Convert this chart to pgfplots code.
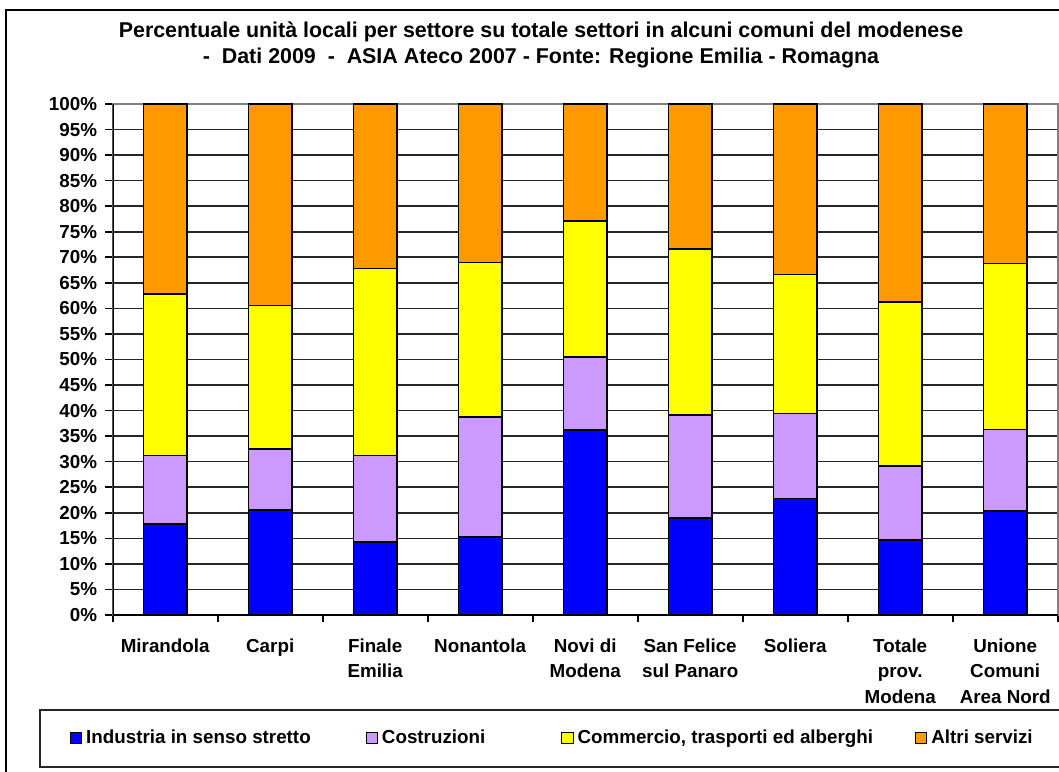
\documentclass[border=0pt]{standalone}
\usepackage{pgfplots}
\pgfplotsset{compat=1.18}
\usepackage{fontspec}
\setmainfont{Liberation Sans}
\definecolor{cInd}{HTML}{0000FF}
\definecolor{cCos}{HTML}{CC99FF}
\definecolor{cCom}{HTML}{FFFF00}
\definecolor{cAlt}{HTML}{FF9900}
\definecolor{frame}{HTML}{808080}
\begin{document}
\begin{tikzpicture}
\useasboundingbox (0,0) rectangle (529.5pt,385.5pt);
\clip (0,0) rectangle (529.5pt,385.5pt);
\begin{scope}[x=0.5pt,y=0.5pt]
% chart area frame and legend box
\draw[black, line width=0.8pt] (6,-20) rectangle (1090,761);
\draw[black!85, line width=0.8pt] (40,4) rectangle (1090,61);
% title
\node[align=center, font=\bfseries\fontsize{10.7}{13}\selectfont] at (541,726)
  {Percentuale unità locali per settore su totale settori in alcuni comuni del modenese\\
   -\ \ Dati 2009\ \ -\ \ ASIA Ateco 2007 - Fonte: Regione Emilia - Romagna};
\end{scope}
\begin{axis}[
  at={(56.35pt,78pt)}, anchor=south west,
  scale only axis, width=472.5pt, height=255.5pt,
  ybar stacked, bar width=0.41,
  xmin=-0.5, xmax=8.5, ymin=0, ymax=100,
  xtick={0,...,8},
  xticklabels={Mirandola, Carpi, {Finale\\Emilia}, Nonantola, {Novi di\\Modena},
    {San Felice\\sul Panaro}, Soliera, {Totale\\prov.\\Modena}, {Unione\\Comuni\\Area Nord}},
  minor xtick={-0.5,0.5,...,8.5},
  ytick={0,5,...,100},
  yticklabel={\pgfmathprintnumber{\tick}\%},
  /pgf/number format/assume math mode=true,
  tick label style={font=\bfseries\fontsize{9.4}{12.75}\selectfont},
  xticklabel style={align=center, yshift=-4.5pt},
  yticklabel style={xshift=-0.5pt},
  tick align=outside, tick pos=left,
  major tick length=3.8pt, minor tick length=3.3pt,
  major x tick style={draw=none},
  tick style={black, line width=0.8pt},
  ymajorgrids, grid style={black!85, line width=0.8pt},
  axis line style={frame, line width=0.8pt},
  legend columns=4,
  legend style={draw=none, fill=none, at={(-0.052,-0.2407)}, anchor=west,
    font=\bfseries\fontsize{9.4}{10}\selectfont,
    /tikz/column 2/.style={column sep=25.5pt},
    /tikz/column 4/.style={column sep=36pt},
    /tikz/column 6/.style={column sep=19pt}},
  legend image code/.code={\draw[#1, draw=black, line width=0.5pt] (0pt,-2.6pt) rectangle (5.6pt,3pt);},
]
\addplot[fill=cInd, draw=black, line width=0.8pt] coordinates
  {(0,17.8) (1,20.5) (2,14.3) (3,15.3) (4,36.2) (5,19.0) (6,22.8) (7,14.7) (8,20.4)};
\addplot[fill=cCos, draw=black, line width=0.8pt] coordinates
  {(0,13.4) (1,12.0) (2,16.9) (3,23.4) (4,14.3) (5,20.1) (6,16.6) (7,14.4) (8,15.9)};
\addplot[fill=cCom, draw=black, line width=0.8pt] coordinates
  {(0,31.6) (1,28.1) (2,36.6) (3,30.3) (4,26.6) (5,32.5) (6,27.2) (7,32.2) (8,32.5)};
\addplot[fill=cAlt, draw=black, line width=0.8pt] coordinates
  {(0,37.2) (1,39.4) (2,32.2) (3,31.0) (4,22.9) (5,28.4) (6,33.4) (7,38.7) (8,31.2)};
\legend{Industria in senso stretto, Costruzioni, {Commercio, trasporti ed alberghi}, Altri servizi}
% left and bottom axis lines in black
\draw[black, line width=0.9pt] (rel axis cs:0,1) -- (rel axis cs:0,0) -- (rel axis cs:1,0);
\end{axis}
\end{tikzpicture}
\end{document}
